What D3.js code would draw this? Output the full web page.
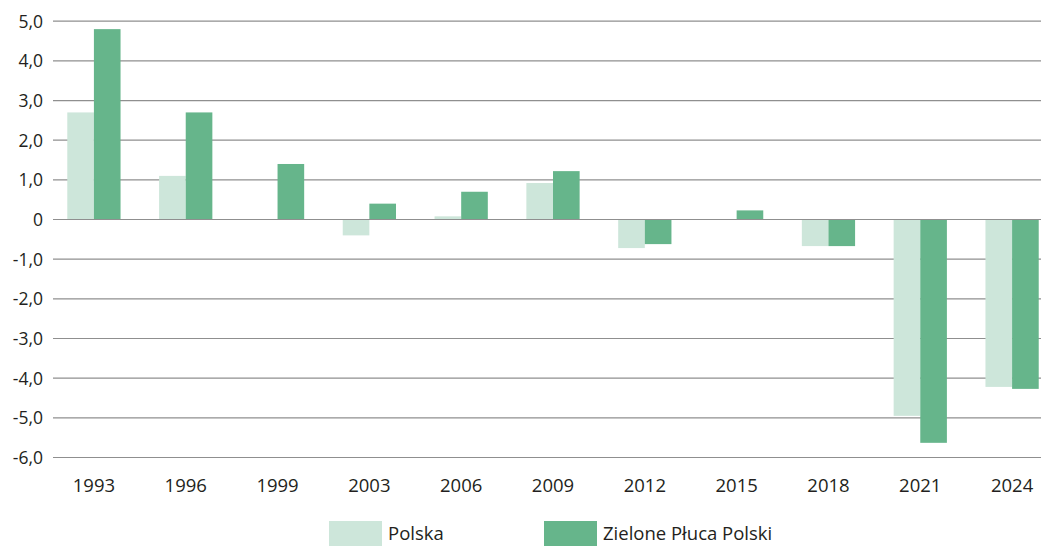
<!DOCTYPE html>
<html><head><meta charset="utf-8">
<script src="https://cdn.jsdelivr.net/npm/d3@7"></script>
<style>body{margin:0;background:#fff}svg{display:block}text{font-family:"Open Sans","Noto Sans",sans-serif;fill:#231f20}</style>
</head><body><svg id="c" width="1041" height="546"></svg>
<script>
const years = ["1993","1996","1999","2003","2006","2009","2012","2015","2018","2021","2024"];
const polska = [2.7, 1.1, 0, -0.4, 0.08, 0.92, -0.72, 0, -0.67, -4.95, -4.22];
const zpp = [4.8, 2.7, 1.4, 0.4, 0.7, 1.22, -0.62, 0.23, -0.67, -5.63, -4.27];
const seriesNames = ["Polska", "Zielone Płuca Polski"];
const yTicks = [5,4,3,2,1,0,-1,-2,-3,-4,-5,-6];
const colors = ["#cde6da", "#66b58b"];

const svg = d3.select("#c");
const y = d3.scaleLinear().domain([-6, 5]).range([457.5, 21.2]);
const x = d3.scaleBand().domain(years).range([48, 1058]).paddingInner(0.42).paddingOuter(0.21);
const xs = d3.scaleBand().domain([0,1]).range([0, x.bandwidth()]);

const fmt = v => v === 0 ? "0" : d3.format(".1f")(v).replace(".", ",").replace("−","-");

const yAxis = d3.axisLeft(y).tickValues(yTicks).tickSize(0).tickFormat(fmt).tickPadding(0);
const ga = svg.append("g").attr("transform","translate(43,0)").call(yAxis);
ga.select(".domain").remove();
ga.selectAll("text").attr("font-size",17.5).attr("dy","0.35em").attr("x",0).style("fill","#231f20");

svg.append("g").selectAll("line").data(yTicks).join("line")
  .attr("x1",53).attr("x2",1041).attr("y1",d=>y(d)).attr("y2",d=>y(d))
  .attr("stroke","#8f8f8f").attr("stroke-width",1.2);

const data = [polska, zpp];
const g = svg.append("g");
data.forEach((arr, si) => {
  g.selectAll(".b"+si).data(arr).join("rect")
    .attr("x",(d,i)=>x(years[i])+xs(si))
    .attr("width",xs.bandwidth())
    .attr("y",d=>y(Math.max(0,d)))
    .attr("height",d=>Math.abs(y(d)-y(0)))
    .attr("fill",colors[si]);
});

svg.append("line").attr("x1",53).attr("x2",1041).attr("y1",y(0)).attr("y2",y(0))
  .attr("stroke","#8f8f8f").attr("stroke-width",1.2);

const xAxis = d3.axisBottom(x).tickSize(0).tickPadding(0);
const gx = svg.append("g").attr("transform","translate(0,479)").call(xAxis);
gx.select(".domain").remove();
gx.selectAll("text").attr("font-size",18.5).attr("dy","0.71em").attr("y",0).style("fill","#231f20");

const legX = [329, 544];
const leg = svg.append("g");
seriesNames.forEach((n,i)=>{
  leg.append("rect").attr("x",legX[i]).attr("y",521).attr("width",53).attr("height",26).attr("fill",colors[i]);
  leg.append("text").attr("x",legX[i]+59).attr("y",539.5).attr("font-size",18.5).text(n);
});
</script></body></html>
